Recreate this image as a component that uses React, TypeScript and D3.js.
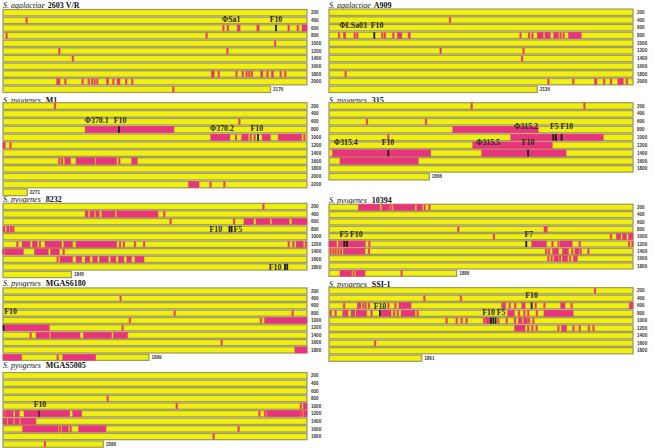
import React from 'react';
import * as d3 from 'd3';

// mark: [rowIndex, kind, startKb, endKb?]  kind: p = pink block, r = thin red mark, k = black marker, d = divider
type Mark = [number, string, number, number?];
// note: [text, row position, kb centre]
type Note = [string, number, number];

const ROW_KB = 200;
const ROW_TICKS = [200, 400, 600, 800, 1000, 1200, 1400, 1600, 1800, 2000, 2200];

const p1Marks: Mark[] = [
  [1, 'r', 15.6],
  [2, 'r', 145], [2, 'r', 148], [2, 'p', 154, 156], [2, 'p', 167, 168.5], [2, 'k', 179.6], [2, 'r', 188], [2, 'r', 194], [2, 'p', 196.7, 200],
  [3, 'r', 2.4], [3, 'r', 134],
  [4, 'r', 179],
  [5, 'r', 37], [5, 'r', 147.6],
  [6, 'r', 46],
  [8, 'p', 137, 139], [8, 'r', 142], [8, 'r', 153.7], [8, 'r', 157.7], [8, 'r', 160.3], [8, 'r', 162], [8, 'r', 163.8], [8, 'p', 169.5, 171], [8, 'r', 174], [8, 'p', 176.5, 178], [8, 'r', 182.7], [8, 'r', 185.7],
  [9, 'p', 35.3, 37.5], [9, 'r', 41], [9, 'r', 52.4], [9, 'r', 56.4], [9, 'r', 58.6], [9, 'r', 60.3], [9, 'r', 62], [9, 'p', 68, 69.5], [9, 'r', 72.6], [9, 'p', 75, 77], [9, 'r', 81], [9, 'r', 85],
  [10, 'r', 112],
];
const p1Notes: Note[] = [['ΦSa1', 0.86, 150], ['F10', 0.86, 179.6]];

const p2Marks: Mark[] = [
  [1, 'r', 79.6],
  [3, 'r', 6.6], [3, 'p', 9.4, 11], [3, 'r', 17], [3, 'r', 18.6], [3, 'k', 29.8], [3, 'r', 35], [3, 'r', 36.8], [3, 'r', 42.3], [3, 'p', 45, 48], [3, 'p', 52, 53.5],
  [3, 'r', 126], [3, 'r', 131.6], [3, 'r', 133.8], [3, 'p', 137, 141], [3, 'p', 142, 145.6], [3, 'p', 147.8, 151], [3, 'r', 152.3], [3, 'r', 154.4], [3, 'p', 157.5, 166],
  [5, 'r', 73.5], [5, 'r', 128],
  [6, 'r', 127],
  [8, 'r', 11],
  [9, 'r', 144.3], [9, 'r', 160.7], [9, 'p', 174.6, 176.3], [9, 'r', 181], [9, 'r', 185.5], [9, 'p', 190, 193.6], [9, 'r', 196],
];
const p2Notes: Note[] = [['ΦLSa03', 1.65, 15.8], ['F10', 1.65, 31.6]];

const p3Marks: Mark[] = [
  [0, 'r', 34.2],
  [2, 'r', 155.5],
  [3, 'p', 54, 112.5], [3, 'k', 76.3],
  [4, 'p', 136.6, 149.3], [4, 'r', 153.3], [4, 'p', 157, 161.4], [4, 'r', 163], [4, 'r', 165.6], [4, 'k', 167.8], [4, 'p', 170.4, 176], [4, 'p', 181, 196.5], [4, 'r', 198.2],
  [5, 'p', 0, 1.5], [5, 'r', 5],
  [7, 'r', 37], [7, 'r', 38.8], [7, 'p', 40.6, 44.5], [7, 'p', 48, 60.5], [7, 'p', 61.2, 74.8], [7, 'r', 76.5], [7, 'p', 84.6, 88.4],
  [10, 'p', 122, 129], [10, 'r', 136.6], [10, 'r', 145.6],
];
const p3Notes: Note[] = [['Φ370.1', 1.78, 61.6], ['F10', 1.78, 77], ['Φ370.2', 2.8, 144], ['F10', 2.8, 167]];

const p4Marks: Mark[] = [
  [0, 'r', 93.9], [0, 'r', 168],
  [2, 'r', 25], [2, 'r', 63.8],
  [3, 'p', 81.4, 137.7],
  [4, 'r', 39], [4, 'p', 119.5, 180.5], [4, 'k', 147.6], [4, 'k', 149.3], [4, 'k', 153],
  [5, 'p', 94.5, 147],
  [6, 'p', 2.2, 67], [6, 'k', 39], [6, 'p', 100.4, 156], [6, 'k', 131],
  [7, 'p', 7.2, 58.8],
];
const p4Notes: Note[] = [['Φ315.2', 2.64, 129.6], ['F5 F10', 2.64, 153], ['Φ315.4', 4.67, 11], ['F10', 4.67, 38.8], ['Φ315.5', 4.67, 104.6], ['F10', 4.67, 131]];

const p5Marks: Mark[] = [
  [0, 'r', 171.3],
  [1, 'p', 54, 56], [1, 'p', 57.2, 60], [1, 'p', 61, 63.4], [1, 'p', 65, 73.7], [1, 'p', 74.8, 102], [1, 'r', 106],
  [2, 'r', 110.3], [2, 'r', 152], [2, 'p', 158.5, 165], [2, 'p', 166.4, 175.7], [2, 'p', 176.8, 188.4], [2, 'p', 190, 200],
  [3, 'p', 0, 1.3], [3, 'p', 2.4, 4], [3, 'p', 4.6, 6.1], [3, 'r', 6.8], [3, 'k', 149], [3, 'k', 150.4],
  [5, 'r', 9.4], [5, 'p', 12.5, 17.8], [5, 'p', 19.3, 22.6], [5, 'r', 24.3], [5, 'p', 27.6, 38.6], [5, 'p', 40, 45.8], [5, 'p', 48, 74.8], [5, 'r', 77], [5, 'r', 79.6], [5, 'r', 86.8], [5, 'r', 92.8], [5, 'r', 188], [5, 'r', 191], [5, 'p', 192.8, 197.6], [5, 'r', 199.3],
  [6, 'r', 0.2], [6, 'p', 1, 13.4], [6, 'p', 20.6, 29.8], [6, 'p', 31.3, 37], [6, 'r', 40],
  [7, 'r', 36], [7, 'p', 37.5, 45.8], [7, 'p', 48, 51.8], [7, 'p', 54, 57.2], [7, 'p', 59, 62], [7, 'p', 63.4, 69.3], [7, 'p', 70.8, 74.3], [7, 'p', 75.9, 79.6], [7, 'p', 81.4, 84.6], [7, 'p', 86.8, 92.8],
  [8, 'k', 185.5], [8, 'k', 187],
];
const p5Notes: Note[] = [['F10', 3.0, 140], ['F5', 3.0, 154.5], ['F10', 8.0, 179]];

const p6Marks: Mark[] = [
  [0, 'p', 19.3, 33.5], [0, 'p', 34.6, 40], [0, 'r', 41], [0, 'p', 42.3, 56.6], [0, 'p', 57.7, 61.4], [0, 'r', 63], [0, 'r', 66],
  [3, 'r', 85], [3, 'p', 141.4, 143.6],
  [4, 'r', 108.5], [4, 'r', 185.5], [4, 'p', 189, 192], [4, 'p', 193, 195.8], [4, 'p', 197, 200],
  [5, 'p', 0, 5], [5, 'p', 6.1, 24], [5, 'k', 10.1], [5, 'k', 11.8], [5, 'r', 26.5], [5, 'k', 129.8], [5, 'p', 133.3, 143.2], [5, 'r', 147], [5, 'r', 151], [5, 'p', 152, 160], [5, 'r', 165], [5, 'r', 197.4], [5, 'r', 199.6],
  [6, 'r', 1.1], [6, 'r', 2.8], [6, 'r', 4.4], [6, 'r', 6.1], [6, 'r', 7.9], [6, 'p', 9.4, 23.7], [6, 'r', 26.3], [6, 'r', 142.8], [6, 'r', 144.7], [6, 'p', 147, 151], [6, 'p', 153.5, 157.5], [6, 'r', 160], [6, 'p', 161.8, 164.5], [6, 'r', 165.6], [6, 'r', 170.6],
  [7, 'r', 144.3], [7, 'r', 146.5], [7, 'p', 148, 151], [7, 'r', 152], [7, 'p', 153.5, 157], [7, 'r', 158.6], [7, 'p', 160.7, 163.4],
  [9, 'p', 7.2, 14.9], [9, 'r', 16.2], [9, 'p', 17.5, 23.7], [9, 'r', 47.8],
];
const p6Notes: Note[] = [['F5 F10', 3.64, 14.5], ['F7', 3.64, 131.4]];

const p7Marks: Mark[] = [
  [1, 'r', 77.4],
  [3, 'r', 113], [3, 'r', 190.6],
  [4, 'r', 83.5], [4, 'r', 169.7], [4, 'p', 172, 200],
  [5, 'p', 1, 30.5], [5, 'k', 0.4], [5, 'r', 78.7],
  [6, 'r', 18.2], [6, 'p', 21.7, 30.5], [6, 'p', 31.4, 50.7], [6, 'p', 52.9, 71.5], [6, 'p', 72.6, 82],
  [7, 'r', 143.9],
  [8, 'p', 192, 200],
  [9, 'p', 0, 12.3], [9, 'r', 36], [9, 'p', 39.3, 61],
];
const p7Notes: Note[] = [['F10', 2.8, 5]];

const p8Marks: Mark[] = [
  [0, 'r', 175],
  [1, 'r', 62.7], [1, 'r', 86.8],
  [2, 'r', 9.9], [2, 'p', 18.6, 21], [2, 'r', 22.6], [2, 'r', 24.1], [2, 'r', 26.3], [2, 'r', 39], [2, 'r', 43.6], [2, 'p', 46, 54], [2, 'p', 113.6, 116.2], [2, 'r', 119], [2, 'r', 122.4], [2, 'p', 126.8, 129], [2, 'k', 133.3], [2, 'r', 136], [2, 'r', 141.7], [2, 'p', 152.4, 155.3], [2, 'r', 159.6], [2, 'p', 197.5, 200],
  [3, 'r', 1.1], [3, 'r', 4.4], [3, 'r', 9.4], [3, 'p', 10, 12.5], [3, 'p', 14.5, 17], [3, 'p', 17.8, 24.8], [3, 'r', 28], [3, 'k', 33.5], [3, 'p', 34.2, 40.8], [3, 'r', 42.8], [3, 'r', 45.2], [3, 'p', 47.4, 56.6], [3, 'r', 58.3],
  [3, 'p', 117.5, 122], [3, 'r', 125], [3, 'r', 128.5], [3, 'r', 131], [3, 'r', 136.8], [3, 'p', 141.4, 160.7],
  [4, 'r', 77.4], [4, 'r', 84], [4, 'r', 87.3], [4, 'r', 90.6], [4, 'r', 102], [4, 'p', 103, 106], [4, 'k', 106.6], [4, 'k', 108.1], [4, 'k', 109.6], [4, 'r', 111.4], [4, 'r', 117], [4, 'r', 122.4], [4, 'p', 124.6, 127], [4, 'p', 128, 130.7], [4, 'r', 131.6], [4, 'r', 134.4],
  [5, 'p', 122, 129], [5, 'r', 131], [5, 'r', 133.8], [5, 'r', 136.6], [5, 'r', 150.9], [5, 'p', 153, 156.4], [5, 'r', 160.7], [5, 'r', 165], [5, 'r', 171], [5, 'r', 174],
  [7, 'r', 30.3],
];
const p8Notes: Note[] = [['F10', 0.57, 133.3], ['F10', 2.04, 33.5], ['F10 F5', 2.93, 108.5]];

const p9Marks: Mark[] = [
  [3, 'r', 68.9],
  [4, 'r', 114.3], [4, 'r', 196], [4, 'p', 197.5, 200],
  [5, 'r', 0.7], [5, 'p', 1.5, 6.8], [5, 'p', 7.9, 10.7], [5, 'p', 13.8, 23.9], [5, 'k', 23.9], [5, 'p', 24.3, 44], [5, 'p', 45.8, 51.8], [5, 'r', 168.6], [5, 'r', 172.4], [5, 'p', 173.5, 196.5], [5, 'r', 197], [5, 'p', 198, 200],
  [6, 'p', 0, 21.7], [6, 'd', 2.9], [6, 'd', 7.2], [6, 'd', 11.2],
  [7, 'p', 12.9, 36.4], [7, 'r', 37.5], [7, 'p', 38.8, 43], [7, 'r', 44.5], [7, 'p', 49.6, 67.8], [7, 'r', 155],
  [8, 'r', 138.6],
  [9, 'r', 27.6],
];
const p9Notes: Note[] = [['F10', 3.76, 24.3]];

const speciesNames = ['S. agalactiae', 'S. agalactiae', 'S. pyogenes', 'S. pyogenes', 'S. pyogenes', 'S. pyogenes', 'S. pyogenes', 'S. pyogenes', 'S. pyogenes'];
const strainNames = ['2603 V/R', 'A909', 'M1', '315', '8232', '10394', 'MGAS6180', 'SSI-1', 'MGAS5005'];
const genomeSizes = ['2176', '2136', '2271', '1866', '1845', '1886', '1899', '1861', '1886'];
const lastRowKb = [176, 137, 16, 66, 45, 84, 96, 61, 66];
const rowCounts = [11, 11, 12, 10, 10, 10, 10, 10, 10];
const allMarks = [p1Marks, p2Marks, p3Marks, p4Marks, p5Marks, p6Marks, p7Marks, p8Marks, p9Marks];
const allNotes = [p1Notes, p2Notes, p3Notes, p4Notes, p5Notes, p6Notes, p7Notes, p8Notes, p9Notes];

// layout (pixels)
const layout = [
  { x0: 3, titleY: 5.5, top: 12.7, pitch: 7.66 },
  { x0: 329, titleY: 5.5, top: 12.3, pitch: 7.7 },
  { x0: 3, titleY: 100.5, top: 106, pitch: 7.85 },
  { x0: 329, titleY: 100.5, top: 106, pitch: 7.85 },
  { x0: 3, titleY: 199, top: 206.5, pitch: 7.55 },
  { x0: 329, titleY: 200, top: 207.3, pitch: 7.33 },
  { x0: 3, titleY: 283.5, top: 291, pitch: 7.37 },
  { x0: 329, titleY: 284, top: 290.7, pitch: 7.5 },
  { x0: 3, titleY: 365.5, top: 375.7, pitch: 7.6 },
];
const ROW_PX = 304;

const YELLOW = '#f0f00a';
const EDGE = '#a09c66';
const PINK = '#e8347c';
const RED = '#e63c6a';
const SERIF = '"Liberation Serif", "Times New Roman", serif';
const SANS = '"Liberation Sans", Arial, sans-serif';

function Panel({ i }: { i: number }) {
  const L = layout[i];
  const x = d3.scaleLinear().domain([0, ROW_KB]).range([L.x0, L.x0 + ROW_PX]);
  const n = rowCounts[i];
  const y = d3.scaleLinear().domain([0, 1]).range([L.top, L.top + L.pitch]);
  const h = L.pitch - 1.3;
  const rows = d3.range(n);
  return (
    <g>
      <text x={L.x0} y={L.titleY} dy="0.35em" fontFamily={SERIF} fontSize={8} fill="#111">
        <tspan fontStyle="italic">{speciesNames[i]}</tspan>
        <tspan fontWeight="bold" dx={i < 2 ? 3 : 5}>{strainNames[i]}</tspan>
      </text>
      {rows.map((r) => {
        const len = r === n - 1 ? lastRowKb[i] : ROW_KB;
        return (
          <rect key={'row' + r} x={x(0)} y={y(r) - h / 2} width={x(len) - x(0)} height={h}
            fill={YELLOW} stroke={EDGE} strokeWidth={1.3} />
        );
      })}
      {allMarks[i].map((m, j) => {
        const [r, kind, s, e] = m;
        const yy = y(r) - h / 2;
        if (kind === 'p') {
          return <rect key={j} x={x(s)} y={yy} width={Math.max(1, x(e as number) - x(s))} height={h} fill={PINK} stroke="#ea4a5a" strokeWidth={0.4} />;
        }
        if (kind === 'r') {
          return <rect key={j} x={x(s) - 1} y={yy} width={2} height={h} fill={RED} stroke="#f08a3a" strokeWidth={0.35} />;
        }
        if (kind === 'd') {
          return <rect key={j} x={x(s) - 0.6} y={yy} width={1.2} height={h} fill="#f2a030" />;
        }
        return <rect key={j} x={x(s) - 0.9} y={yy} width={1.8} height={h} fill="#1c1c10" />;
      })}
      {allNotes[i].map(([t, rp, kb], j) => (
        <text key={'n' + j} x={x(kb)} y={y(rp)} dy="0.35em" textAnchor="middle" fontFamily={SERIF}
          fontWeight="bold" fontSize={7.8} fill="#2a2a12">{t}</text>
      ))}
      {rows.map((r) => {
        const last = r === n - 1;
        return (
          <text key={'l' + r} x={last ? x(lastRowKb[i]) + 2.5 : x(ROW_KB) + 4} y={y(r)} dy="0.35em"
            fontFamily={SANS} fontWeight="bold" fontSize={4.6} fill="#333">
            {last ? genomeSizes[i] : ROW_TICKS[r]}
          </text>
        );
      })}
    </g>
  );
}

export default function App() {
  return (
    <svg width={654} height={448} style={{ position: 'absolute', left: 0, top: 0, background: '#fff' }}>
      {layout.map((_, i) => <Panel key={i} i={i} />)}
    </svg>
  );
}
